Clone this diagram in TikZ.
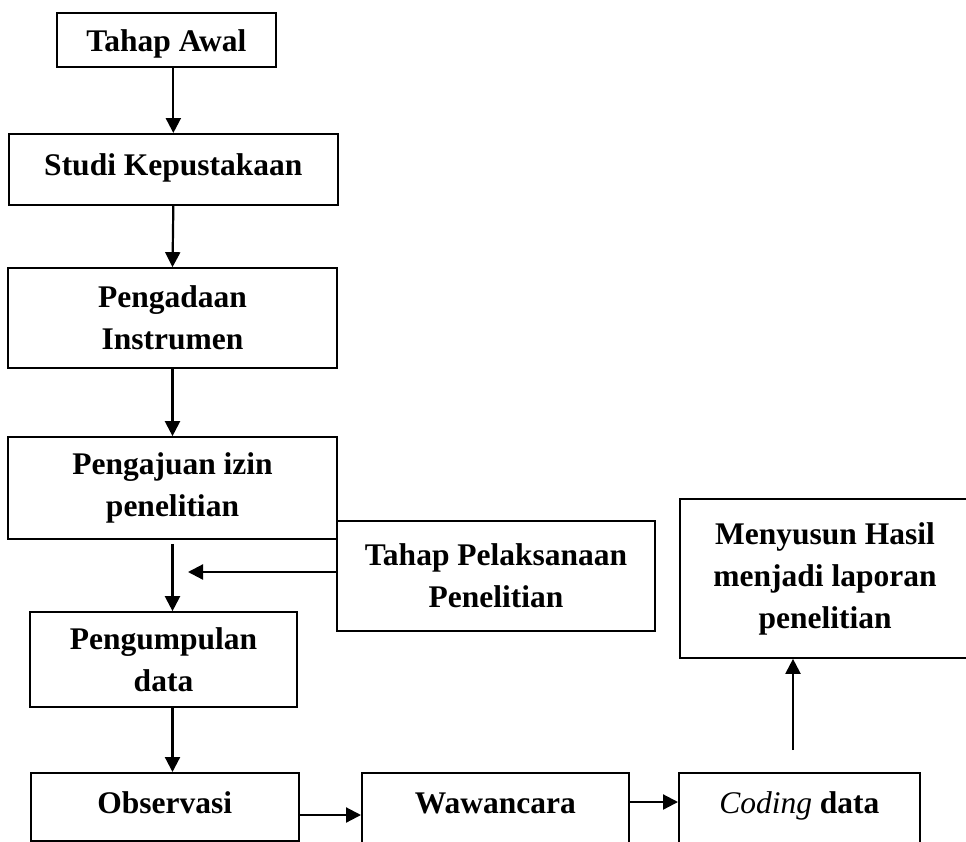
\documentclass[tikz,border=0pt]{standalone}
\usepackage{fontspec}
\setmainfont{Liberation Serif}
\usetikzlibrary{arrows.meta}
\begin{document}
\begin{tikzpicture}[x=1pt,y=-1pt,
  box/.style={draw,line width=1.7pt,inner sep=0pt,align=center,
    font=\fontsize{31.5}{42}\selectfont\bfseries},
  conn/.style={line width=2.2pt,-{Triangle[length=15pt,width=15pt]}}]
\clip (0,0) rectangle (966,841);
\node[box,anchor=north west,minimum width=219,text height=39,text depth=15] (awal) at (56,12) {Tahap Awal};
\node[box,anchor=north west,minimum width=329,text height=42,text depth=29] (studi) at (8,133) {Studi Kepustakaan};
\node[box,minimum width=329,minimum height=100] (pengadaan) at (172.5,318) {Pengadaan\\Instrumen};
\node[box,minimum width=329,minimum height=102] (pengajuan) at (172.5,488) {Pengajuan izin\\penelitian};
\node[box,minimum width=318,minimum height=110] (pelaksanaan) at (496,576) {Tahap Pelaksanaan\\Penelitian};
\node[box,minimum width=267,minimum height=95] (pengumpulan) at (163.5,659.5) {Pengumpulan\\data};
\node[box,minimum width=290,minimum height=159] (menyusun) at (825,578.5) {Menyusun Hasil\\menjadi laporan\\penelitian};
\node[box,anchor=north west,minimum width=268,text height=41,text depth=27] (observasi) at (30,772) {Observasi};
\node[box,anchor=north west,minimum width=267,text height=41,text depth=100] (wawancara) at (361,772) {Wawancara};
\node[box,anchor=north west,minimum width=241,text height=41,text depth=100] (coding) at (678,772) {{\mdseries\itshape Coding} data};
\coordinate (tip) at (188,572);
\coordinate (cstart) at (793,750);
\draw[conn] (awal.south -| studi.north) -- (studi.north);
\draw[conn] (studi.south) -- (pengadaan.north);
\draw[conn] (pengadaan.south) -- (pengajuan.north);
\draw[conn] ([yshift=-4pt]pengajuan.south) -- (pengajuan.south |- pengumpulan.north);
\draw[conn] (pelaksanaan.west |- tip) -- (tip);
\draw[conn] (pengumpulan.south -| pengajuan.south) -- (observasi.north -| pengajuan.south);
\draw[conn] (observasi.east |- 0,815) -- (wawancara.west |- 0,815);
\draw[conn] (wawancara.east |- 0,802) -- (coding.west |- 0,802);
\draw[conn] (cstart) -- (cstart |- menyusun.south);
\end{tikzpicture}
\end{document}
